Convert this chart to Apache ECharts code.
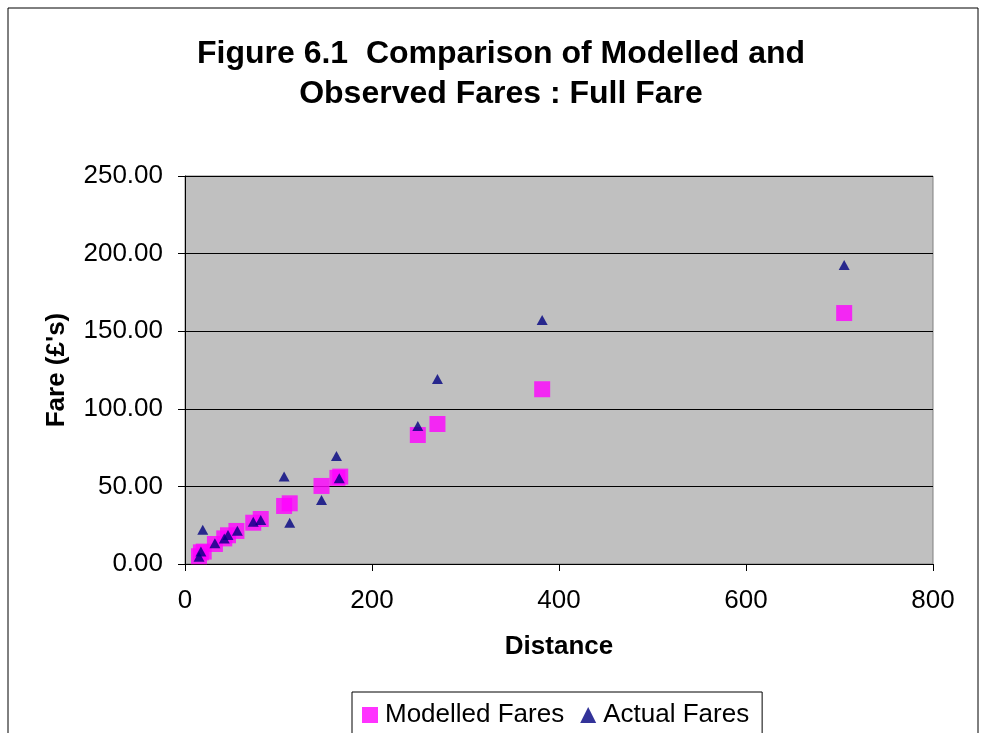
<!DOCTYPE html>
<html>
<head>
<meta charset="utf-8">
<script src="https://cdn.jsdelivr.net/npm/echarts@6/dist/echarts.min.js"></script>
<style>
  html, body { margin: 0; padding: 0; background: #fff; }
  #chart { width: 986px; height: 733px; }
</style>
</head>
<body>
<div id="chart"></div>
<script>
// Modelled fares (squares)
const modelledDist = [15, 17, 20, 32, 42, 46, 55, 73, 81, 106, 112, 146, 163, 166, 249, 270, 382, 705]
const modelledFare = [5, 7.5, 8, 12.9, 16.5, 18.5, 21.3, 26.6, 29, 37.4, 39.1, 50.3, 55.5, 56.3, 83.1, 90.2, 112.6, 161.7]

// Actual fares (triangles)
const actualDist = [15, 17, 19, 32, 42, 46, 56, 73, 81, 106, 112, 146, 162, 165, 249, 270, 382, 705]
const actualFare = [4.7, 8, 22, 13.3, 16.5, 18.7, 21.5, 27.3, 28.4, 56.3, 26.6, 41.2, 69.6, 55.2, 88.9, 119.2, 157.2, 192.7]

const xTicks = [0, 200, 400, 600, 800]
const yTicks = [0, 50, 100, 150, 200, 250]

const pairs = (xs, ys) => xs.map((x, i) => [x, ys[i]])

const chart = echarts.init(document.getElementById('chart'))
const font = 'Arial, "Liberation Sans", sans-serif'

chart.setOption({
  animation: false,
  textStyle: { fontFamily: font },
  title: {
    text: 'Figure 6.1  Comparison of Modelled and\nObserved Fares : Full Fare',
    left: 496,
    textAlign: 'center',
    top: 29,
    textStyle: { fontSize: 32, fontWeight: 'bold', color: '#000', lineHeight: 40, fontFamily: font }
  },
  graphic: [{
    type: 'rect',
    shape: { x: 8, y: 8, width: 970, height: 740 },
    style: { fill: 'none', stroke: '#000', lineWidth: 1 },
    silent: true
  }],
  grid: {
    left: 185, right: 53, top: 176, bottom: 169,
    show: true, backgroundColor: '#c0c0c0', borderColor: '#808080', borderWidth: 1
  },
  xAxis: {
    type: 'value',
    min: xTicks[0], max: xTicks[xTicks.length - 1], interval: 200,
    name: 'Distance',
    nameLocation: 'middle',
    nameGap: 70,
    nameTextStyle: { fontSize: 26, fontWeight: 'bold', color: '#000' },
    axisLine: { show: true, lineStyle: { color: '#000' } },
    axisTick: { show: true, length: 7, lineStyle: { color: '#000' } },
    axisLabel: { fontSize: 26, color: '#000', margin: 24 },
    splitLine: { show: false }
  },
  yAxis: {
    type: 'value',
    min: yTicks[0], max: yTicks[yTicks.length - 1], interval: 50,
    name: "Fare (£'s)",
    nameLocation: 'middle',
    nameGap: 115,
    nameRotate: 90,
    nameTextStyle: { fontSize: 26, fontWeight: 'bold', color: '#000' },
    axisLine: { show: true, lineStyle: { color: '#000' } },
    axisTick: { show: true, length: 7, lineStyle: { color: '#000' } },
    axisLabel: { fontSize: 26, color: '#000', margin: 22, formatter: v => v.toFixed(2) },
    splitLine: { show: true, lineStyle: { color: '#000', width: 1 } }
  },
  legend: {
    left: 352,
    top: 692,
    padding: [10, 13, 14, 10],
    borderColor: '#000',
    borderWidth: 1,
    itemGap: 16,
    itemWidth: 16,
    itemHeight: 16,
    textStyle: { fontSize: 26, color: '#000', padding: [0, 0, 0, 2] },
    data: [
      { name: 'Modelled Fares', icon: 'rect' },
      { name: 'Actual Fares', icon: 'triangle', itemStyle: { color: '#000080' } }
    ]
  },
  series: [
    {
      name: 'Modelled Fares',
      type: 'scatter',
      symbol: 'rect',
      symbolSize: 16,
      itemStyle: { color: '#ff00ff' },
      data: pairs(modelledDist, modelledFare)
    },
    {
      name: 'Actual Fares',
      type: 'scatter',
      symbol: 'triangle',
      symbolSize: [11, 10],
      itemStyle: { color: '#000080' },
      data: pairs(actualDist, actualFare)
    }
  ]
})
</script>
</body>
</html>
